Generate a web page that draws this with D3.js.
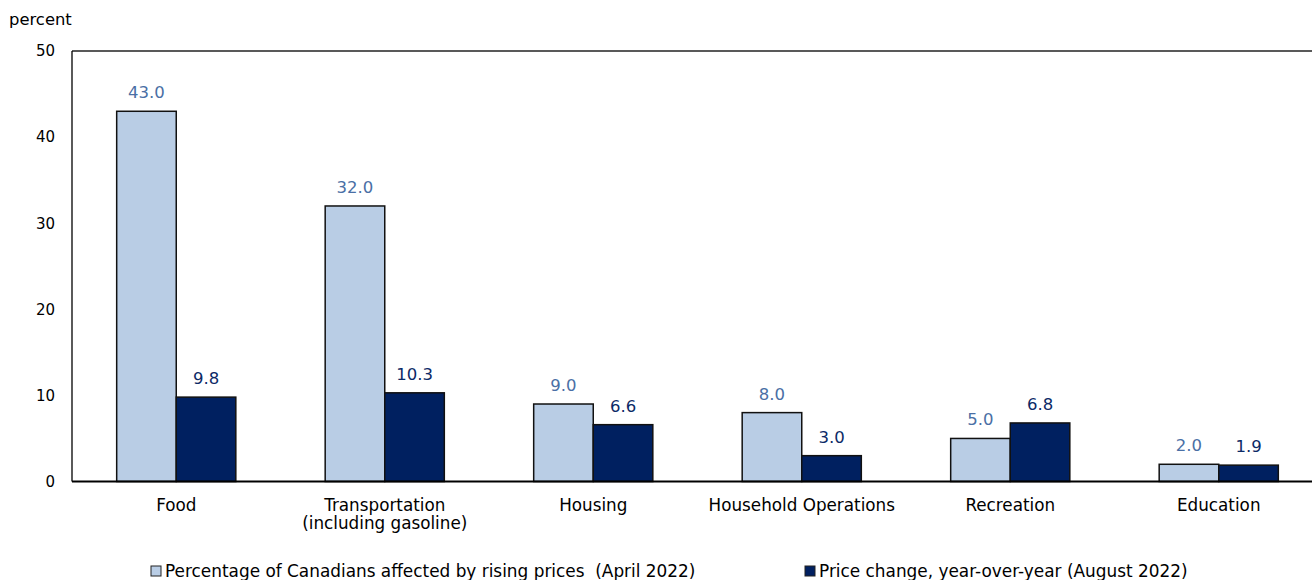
<!DOCTYPE html>
<html>
<head>
<meta charset="utf-8">
<script src="https://cdn.jsdelivr.net/npm/d3@7"></script>
<style>
  html, body { margin: 0; padding: 0; background: #fff; }
  svg { display: block; font-family: "DejaVu Sans", Verdana, sans-serif; }
</style>
</head>
<body>
<svg id="chart" width="1312" height="580"></svg>
<script>
// Spending categories and the two series shown for each
const categories = ["Food", "Transportation\n(including gasoline)", "Housing", "Household Operations", "Recreation", "Education"];
const affectedShare = [43.0, 32.0, 9.0, 8.0, 5.0, 2.0];   // % of Canadians affected by rising prices (April 2022)
const priceChange = [9.8, 10.3, 6.6, 3.0, 6.8, 1.9];      // year-over-year price change (August 2022)
const yTicks = [0, 10, 20, 30, 40, 50];
const seriesNames = ["Percentage of Canadians affected by rising prices  (April 2022)", "Price change, year-over-year (August 2022)"];

const series = [
  { name: seriesNames[0], values: affectedShare, fill: "#b9cde5", label: "#4a6fa5" },
  { name: seriesNames[1], values: priceChange, fill: "#002060", label: "#0c2a66" }
];

const FONT = "DejaVu Sans, Verdana, sans-serif";
const svg = d3.select("#chart");
const plotLeft = 72, plotRight = 1323, plotTop = 51, plotBottom = 481.5;

const x = d3.scaleBand().domain(d3.range(categories.length)).range([plotLeft, plotRight]).padding(0);
const barW = x.bandwidth() * 0.2857;
const xs = d3.scaleBand().domain(d3.range(series.length))
  .range([x.bandwidth() / 2 - barW, x.bandwidth() / 2 + barW]).padding(0);
const y = d3.scaleLinear().domain([0, 50]).range([plotBottom, plotTop]);

// Y axis tick labels (no tick marks)
const yAxis = d3.axisLeft(y).tickValues(yTicks).tickSize(0).tickPadding(17).tickFormat(d3.format("d"));
const gy = svg.append("g").attr("transform", `translate(${plotLeft},0)`).call(yAxis);
gy.select(".domain").remove();
gy.attr("font-family", FONT).attr("font-size", 15);
gy.selectAll("text").attr("fill", "#000");

svg.append("text").attr("x", 9).attr("y", 25).attr("font-size", 16.4).attr("fill", "#000").text("percent");

// Frame: top border and left axis line
svg.append("line").attr("x1", plotLeft).attr("x2", 1312).attr("y1", plotTop).attr("y2", plotTop)
  .attr("stroke", "#222").attr("stroke-width", 1.3);
svg.append("line").attr("x1", plotLeft).attr("x2", plotLeft).attr("y1", plotTop).attr("y2", plotBottom)
  .attr("stroke", "#000").attr("stroke-width", 1.3);

// Bars
const groups = svg.append("g").selectAll("g").data(categories).join("g")
  .attr("transform", (d, i) => `translate(${x(i)},0)`);

series.forEach((s, si) => {
  groups.append("rect")
    .attr("x", xs(si))
    .attr("width", xs.bandwidth())
    .attr("y", (d, i) => y(s.values[i]))
    .attr("height", (d, i) => y(0) - y(s.values[i]))
    .attr("fill", s.fill)
    .attr("stroke", "#111")
    .attr("stroke-width", 1.5);
  groups.append("text")
    .attr("x", xs(si) + xs.bandwidth() / 2)
    .attr("y", (d, i) => y(s.values[i]) - 13)
    .attr("text-anchor", "middle")
    .attr("font-size", 16.5)
    .attr("fill", s.label)
    .text((d, i) => d3.format(".1f")(s.values[i]));
});

// Baseline
svg.append("line").attr("x1", plotLeft).attr("x2", 1312).attr("y1", plotBottom).attr("y2", plotBottom)
  .attr("stroke", "#000").attr("stroke-width", 2);

// Category labels
groups.append("text")
  .attr("x", x.bandwidth() / 2)
  .attr("y", 511)
  .attr("text-anchor", "middle")
  .attr("font-size", 16.8)
  .attr("fill", "#000")
  .each(function(d) {
    const lines = d.split("\n");
    d3.select(this).selectAll("tspan").data(lines).join("tspan")
      .attr("x", x.bandwidth() / 2)
      .attr("dy", (l, k) => k === 0 ? 0 : 18)
      .text(l => l);
  });

// Legend
const legendX = [151, 805];
const legend = svg.append("g").selectAll("g").data(series).join("g")
  .attr("transform", (d, i) => `translate(${legendX[i]},566)`);
legend.append("rect").attr("width", 10).attr("height", 10)
  .attr("fill", d => d.fill).attr("stroke", "#222").attr("stroke-width", 1);
legend.append("text").attr("x", 14).attr("y", 11).attr("font-size", 16.9).attr("fill", "#000")
  .style("white-space", "pre")
  .text(d => d.name);
</script>
</body>
</html>
